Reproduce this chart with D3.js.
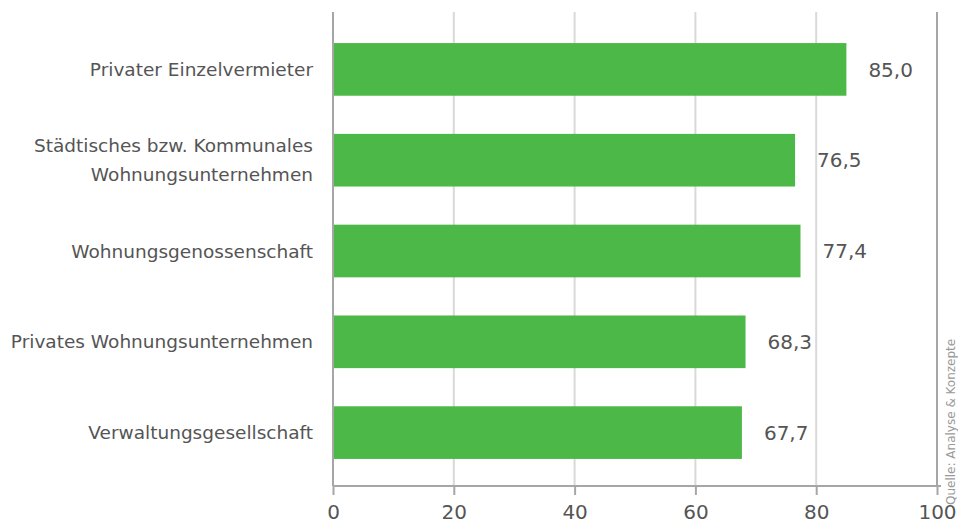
<!DOCTYPE html>
<html>
<head>
<meta charset="utf-8">
<script src="https://cdn.jsdelivr.net/npm/d3@7"></script>
<style>
  body { margin: 0; background: #fff; }
  text { font-family: "DejaVu Sans", Verdana, sans-serif; fill: #555; }
</style>
</head>
<body>
<div id="chart"></div>
<script>
// chart size
const width = 958;
const height = 528;

// data
const categories = [
  ["Privater Einzelvermieter"],
  ["Städtisches bzw. Kommunales", "Wohnungsunternehmen"],
  ["Wohnungsgenossenschaft"],
  ["Privates Wohnungsunternehmen"],
  ["Verwaltungsgesellschaft"]
];
const values = [85.0, 76.5, 77.4, 68.3, 67.7];
const tickValues = [0, 20, 40, 60, 80, 100];
const source = "Quelle: Analyse & Konzepte";

const x = d3.scaleLinear().domain([0, 100]).range([333, 937]);
const y = d3.scaleBand()
  .domain(d3.range(categories.length))
  .range([24, 478])
  .paddingInner(0.42)
  .paddingOuter(0.21);

let svg = d3.select("#chart").append("svg")
  .attr("width", width)
  .attr("height", height);

// vertical grid lines
svg.append("g")
  .selectAll("line")
  .data(tickValues.slice(1, -1))
  .enter().append("line")
  .attr("x1", d => x(d)).attr("x2", d => x(d))
  .attr("y1", 12).attr("y2", 486)
  .style("stroke", "#d9d9d9")
  .style("stroke-width", 2);

// right border
svg.append("line")
  .attr("x1", x(100)).attr("x2", x(100))
  .attr("y1", 12).attr("y2", 486)
  .style("stroke", "#a6a6a6")
  .style("stroke-width", 2);

// bars
svg.append("g")
  .selectAll("rect")
  .data(values)
  .enter().append("rect")
  .attr("x", x(0))
  .attr("y", (d, i) => y(i))
  .attr("width", d => x(d) - x(0))
  .attr("height", y.bandwidth())
  .style("fill", "#4cb848");

// value labels
svg.append("g")
  .selectAll("text")
  .data(values)
  .enter().append("text")
  .attr("x", d => x(d) + 22)
  .attr("y", (d, i) => y(i) + y.bandwidth() / 2)
  .attr("dy", "0.36em")
  .style("font-size", "20px")
  .text(d => d.toFixed(1).replace(".", ","));

// category labels
let cat = svg.append("g")
  .selectAll("text")
  .data(categories)
  .enter().append("text")
  .attr("text-anchor", "end")
  .style("font-size", "18.5px")
  .attr("y", (d, i) => y(i) + y.bandwidth() / 2);

cat.selectAll("tspan")
  .data(d => d.map((t, k) => ({t: t, k: k, n: d.length})))
  .enter().append("tspan")
  .attr("x", 313)
  .attr("dy", d => d.k === 0 ? (0.36 - (d.n - 1) * 0.78) + "em" : "1.56em")
  .text(d => d.t);

// y axis line
svg.append("line")
  .attr("x1", x(0)).attr("x2", x(0))
  .attr("y1", 12).attr("y2", 486)
  .style("stroke", "#a6a6a6")
  .style("stroke-width", 2);

// x axis
let xAxis = svg.append("g")
  .attr("transform", "translate(0,486)")
  .call(d3.axisBottom(x).tickValues(tickValues).tickSize(9).tickPadding(10).tickSizeOuter(0));

xAxis.select(".domain").attr("d", "M" + x(0) + ",0H" + (x(100) + 4))
  .style("stroke", "#a6a6a6").style("stroke-width", 2);
xAxis.selectAll(".tick line").style("stroke", "#a6a6a6").style("stroke-width", 2);
xAxis.selectAll(".tick text")
  .style("font-size", "20px")
  .style("font-family", "DejaVu Sans, sans-serif")
  .attr("fill", "#444");

// source note
svg.append("text")
  .attr("transform", "translate(955,505) rotate(-90)")
  .style("font-size", "12px")
  .style("fill", "#999")
  .text(source);
</script>
</body>
</html>
